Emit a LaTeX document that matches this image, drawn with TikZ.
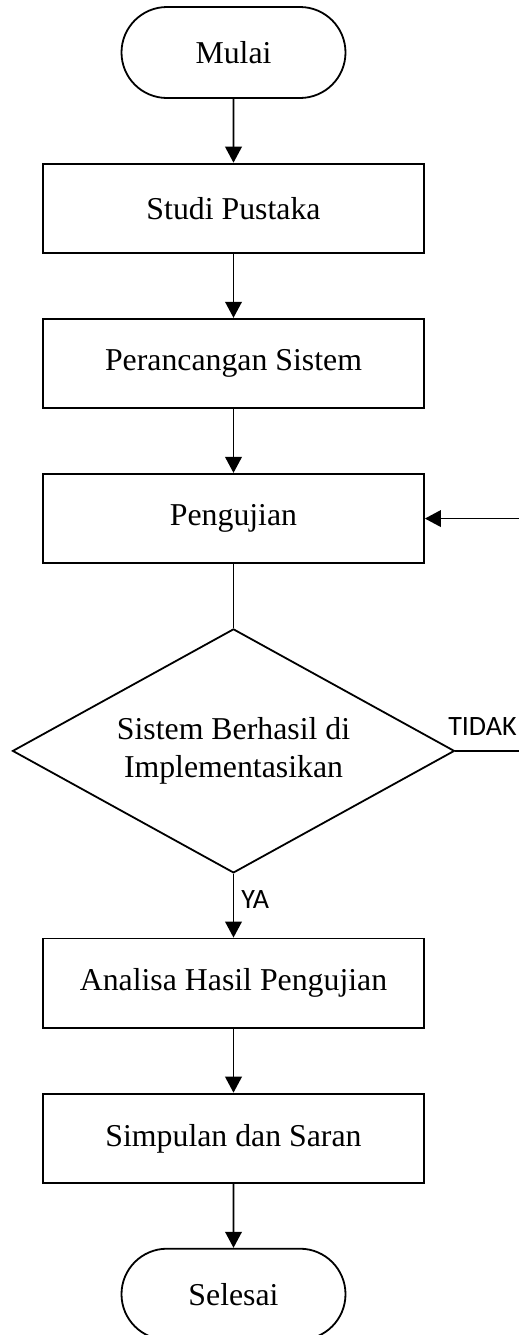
\documentclass[tikz,border=0pt]{standalone}
\usepackage{fontspec}
\setmainfont{Liberation Serif}
\newfontfamily\labelfont{Carlito}
\usetikzlibrary{arrows.meta,positioning,shapes.geometric,shapes.misc}

\begin{document}
\begin{tikzpicture}[x=0.5pt,y=-0.5pt,
   every node/.style={font=\fontsize{15.9}{19}\selectfont},
   term/.style={draw,rounded rectangle,minimum width=112pt,minimum height=45.5pt,
                inner sep=0pt},
   proc/.style={draw,rectangle,minimum width=190.5pt,minimum height=44.75pt},
   cond/.style={draw,diamond,aspect=1.81,minimum width=221pt,minimum height=122pt,
                align=center,inner sep=0pt},
   lbl/.style={font=\labelfont\fontsize{14}{16}\selectfont,inner sep=0pt},
   ln/.style={line width=0.9pt},
   arr/.style={ln,-{Triangle[length=8pt,width=8.3pt]}},
   every node/.append style={line width=0.9pt},
   node distance=31.9pt
]
\useasboundingbox (0,0) rectangle (519,1335);

% Start
\node[term] (mulai) at (233.5,52.5) {Mulai};

% Main steps
\node[proc,below=of mulai] (studi) {Studi Pustaka};
\node[proc,below=of studi] (rancang) {Perancangan Sistem};
\node[proc,below=of rancang] (uji) {Pengujian};
\draw[arr] (mulai) -- (studi);
\draw[arr] (studi) -- (rancang);
\draw[arr] (rancang) -- (uji);

% Decision
\node[cond,below=of uji] (cek) {Sistem Berhasil di\\Implementasikan};
\draw[ln] (uji) -- (cek);

% TIDAK: back to Pengujian
\coordinate (tidakEnd) at (519,750);
\coordinate (balik) at (uji.east -| tidakEnd);
\draw[ln] (cek.east) -- (cek.east -| tidakEnd);
\draw[arr] (balik) -- (uji.east);
\node[lbl,anchor=base west] (tidak) at ([xshift=-4pt,yshift=7.5pt]cek.east) {TIDAK};

% YA
\node[proc,below=of cek] (analisa) {Analisa Hasil Pengujian};
\draw[arr] (cek.south) -- (analisa);
\node[lbl,anchor=base west] (ya) at ([xshift=3.5pt,yshift=-17.5pt]cek.south) {YA};

\node[proc,below=of analisa] (simpul) {Simpulan dan Saran};
\draw[arr] (analisa) -- (simpul);

% End
\node[term,below=of simpul] (selesai) {Selesai};
\draw[arr] (simpul) -- (selesai);

\end{tikzpicture}
\end{document}
